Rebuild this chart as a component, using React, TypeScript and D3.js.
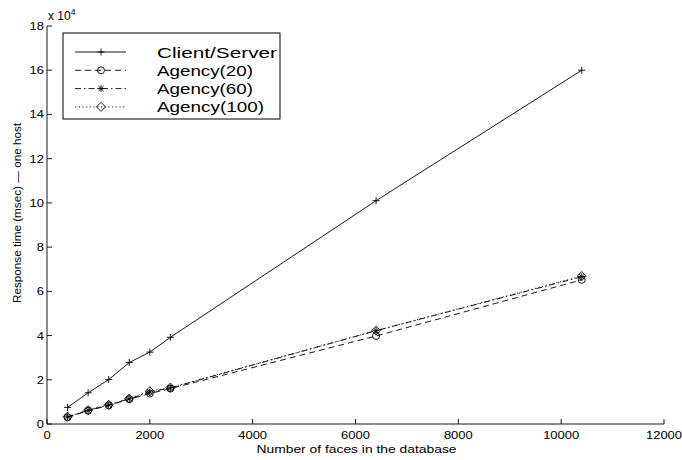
import React from "react";
import * as d3 from "d3";

// faces in database
const faces = [400, 800, 1200, 1600, 2000, 2400, 6400, 10400];
// response times, in units of 1e4 msec
const clientServer = [0.75, 1.41, 2.01, 2.78, 3.25, 3.92, 10.1, 16.0];
const agency20 = [0.3, 0.6, 0.84, 1.12, 1.38, 1.6, 3.98, 6.52];
const agency60 = [0.32, 0.62, 0.86, 1.14, 1.45, 1.63, 4.22, 6.66];
const agency100 = [0.33, 0.63, 0.87, 1.15, 1.48, 1.65, 4.22, 6.69];

const xTicks = [0, 2000, 4000, 6000, 8000, 10000, 12000];
const yTicks = [0, 2, 4, 6, 8, 10, 12, 14, 16, 18];

const seriesNames = ["Client/Server", "Agency(20)", "Agency(60)", "Agency(100)"];

const W = 682;
const H = 460;
const margin = { top: 26, right: 18, bottom: 36, left: 47 };
const FONT = "'Liberation Sans', Arial, Helvetica, sans-serif";

type Marker = "plus" | "circle" | "star" | "diamond";

const MarkerShape = ({ type, x, y }: { type: Marker; x: number; y: number }) => {
  const s = 3.5;
  const st = { stroke: "#000", strokeWidth: 0.9, fill: "none" };
  if (type === "plus")
    return (
      <path d={`M${x - s},${y}H${x + s}M${x},${y - s}V${y + s}`} {...st} />
    );
  if (type === "circle") return <circle cx={x} cy={y} r={s} {...st} />;
  if (type === "diamond")
    return (
      <path
        d={`M${x},${y - 4.5}L${x + 4.5},${y}L${x},${y + 4.5}L${x - 4.5},${y}Z`}
        {...st}
      />
    );
  // star / asterisk
  const d = s * 0.72;
  return (
    <path
      d={`M${x - s},${y}H${x + s}M${x},${y - s}V${y + s}M${x - d},${y - d}L${x + d},${y + d}M${x - d},${y + d}L${x + d},${y - d}`}
      {...st}
    />
  );
};

// the original figure is stretched sideways, so text gets a fixed length
const digitW = 7.2;

const App = () => {
  const x = d3
    .scaleLinear()
    .domain([0, 12000])
    .range([margin.left, W - margin.right]);
  const y = d3
    .scaleLinear()
    .domain([0, 18])
    .range([H - margin.bottom, margin.top]);

  const series: { name: string; values: number[]; dash: string; marker: Marker }[] = [
    { name: seriesNames[0], values: clientServer, dash: "none", marker: "plus" },
    { name: seriesNames[1], values: agency20, dash: "6,4", marker: "circle" },
    { name: seriesNames[2], values: agency60, dash: "6,3,1.5,3", marker: "star" },
    { name: seriesNames[3], values: agency100, dash: "1.2,2.5", marker: "diamond" },
  ];

  const line = d3
    .line<number>()
    .x((_, i) => x(faces[i]))
    .y((d) => y(d));

  const x0 = x(0);
  const y0 = y(0);
  const tickLen = 5;

  return (
    <svg
      width={W}
      height={H}
      style={{ position: "absolute", left: 0, top: 0, background: "#fff" }}
      fontFamily={FONT}
    >
      {/* axes */}
      <line x1={x0} y1={y0} x2={x(12000)} y2={y0} stroke="#000" strokeWidth={0.9} />
      <line x1={x0} y1={y0} x2={x0} y2={y(18)} stroke="#000" strokeWidth={0.9} />
      {xTicks.map((t) => (
        <g key={"xt" + t}>
          <line x1={x(t)} x2={x(t)} y1={y0} y2={y0 - tickLen} stroke="#000" strokeWidth={0.9} />
          <text
            x={x(t)}
            y={y0 + 15}
            textAnchor="middle"
            fontSize={11.5}
            textLength={String(t).length * digitW}
            lengthAdjust="spacingAndGlyphs"
          >
            {t}
          </text>
        </g>
      ))}
      {yTicks.map((t) => (
        <g key={"yt" + t}>
          <line x1={x0} x2={x0 + tickLen} y1={y(t)} y2={y(t)} stroke="#000" strokeWidth={0.9} />
          <text
            x={x0 - 3}
            y={y(t) + 4}
            textAnchor="end"
            fontSize={11.5}
            textLength={String(t).length * digitW}
            lengthAdjust="spacingAndGlyphs"
          >
            {t}
          </text>
        </g>
      ))}
      <text x={x0 + 1} y={y(18) - 6} fontSize={12}>
        x 10
        <tspan dy={-5} fontSize={8.5}>
          4
        </tspan>
      </text>

      {/* axis titles */}
      <text
        x={(x0 + x(12000)) / 2 + 1}
        y={H - 7}
        textAnchor="middle"
        fontSize={11.5}
        textLength={200}
        lengthAdjust="spacingAndGlyphs"
      >
        Number of faces in the database
      </text>
      <text
        transform={`translate(21,${(y0 + y(18)) / 2 - 12}) rotate(-90)`}
        textAnchor="middle"
        fontSize={11}
        textLength={180}
        lengthAdjust="spacingAndGlyphs"
      >
        Response time (msec) — one host
      </text>

      {/* series */}
      {series.map((s) => (
        <g key={s.name}>
          <path
            d={line(s.values) ?? ""}
            fill="none"
            stroke="#000"
            strokeWidth={0.9}
            strokeDasharray={s.dash}
          />
          {s.values.map((v, i) => (
            <MarkerShape key={i} type={s.marker} x={x(faces[i])} y={y(v)} />
          ))}
        </g>
      ))}

      {/* legend */}
      <g>
        <rect x={63} y={33} width={217} height={86} fill="#fff" stroke="#000" strokeWidth={1} />
        {series.map((s, i) => {
          const ly = 52 + i * 18.3;
          const widths = [120, 96, 96, 107];
          return (
            <g key={"lg" + s.name}>
              <line
                x1={75}
                x2={126}
                y1={ly}
                y2={ly}
                stroke="#000"
                strokeWidth={0.9}
                strokeDasharray={s.dash}
              />
              <MarkerShape type={s.marker} x={101} y={ly} />
              <text
                x={157}
                y={ly + 5.5}
                fontSize={15}
                textLength={widths[i]}
                lengthAdjust="spacingAndGlyphs"
              >
                {s.name}
              </text>
            </g>
          );
        })}
      </g>
    </svg>
  );
};

export default App;
